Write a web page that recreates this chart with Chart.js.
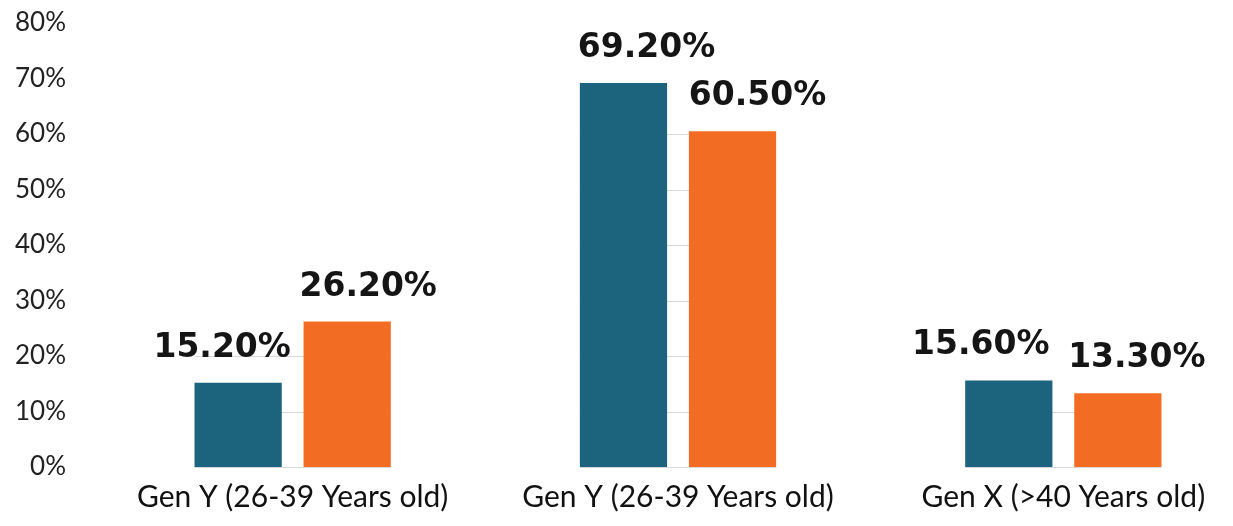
<!DOCTYPE html>
<html>
<head>
<meta charset="utf-8">
<script src="https://cdn.jsdelivr.net/npm/chart.js@4/dist/chart.umd.min.js"></script>
<style>
  html, body { margin: 0; padding: 0; background: #fff; overflow: hidden; }
  #genChart { display: block; }
</style>
</head>
<body>
<canvas id="genChart" width="1256" height="526"></canvas>
<script>
const categories = ["Gen Y (26-39 Years old)", "Gen Y (26-39 Years old)", "Gen X (>40 Years old)"];
const seriesA = [15.2, 69.2, 15.6];
const seriesB = [26.2, 60.5, 13.3];
const yTicks = [0, 10, 20, 30, 40, 50, 60, 70, 80];

const BLUE = "#1c637e";
const ORANGE = "#f26d23";

// sideways nudge of each value label, per dataset then per category
const labelNudge = [[-16, 23, -28], [21, 25, 19]];

// faint grid lines, drawn across each bar group up to its taller bar
const groupGrid = {
  id: "groupGrid",
  beforeDatasetsDraw(chart) {
    const ctx = chart.ctx;
    const y = chart.scales.y;
    const metaA = chart.getDatasetMeta(0);
    const metaB = chart.getDatasetMeta(1);
    ctx.save();
    ctx.strokeStyle = "#d9d9d9";
    ctx.lineWidth = 1;
    metaA.data.forEach((barA, i) => {
      const barB = metaB.data[i];
      const x0 = barA.x - barA.width / 2;
      const x1 = barB.x + barB.width / 2;
      const top = Math.max(seriesA[i], seriesB[i]);
      yTicks.filter(v => v <= top).forEach(v => {
        const py = Math.round(y.getPixelForValue(v)) + 0.5;
        ctx.beginPath();
        ctx.moveTo(x0, py);
        ctx.lineTo(x1, py);
        ctx.stroke();
      });
    });
    ctx.restore();
  }
};

// bold value labels above the bars
const valueLabels = {
  id: "valueLabels",
  afterDatasetsDraw(chart) {
    const ctx = chart.ctx;
    ctx.save();
    ctx.font = "bold 33px 'DejaVu Sans'";
    ctx.fillStyle = "#151515";
    ctx.textAlign = "center";
    ctx.textBaseline = "alphabetic";
    chart.data.datasets.forEach((ds, d) => {
      chart.getDatasetMeta(d).data.forEach((bar, i) => {
        const txt = ds.data[i].toFixed(2) + "%";
        ctx.fillText(txt, bar.x + labelNudge[d][i], bar.y - 26);
      });
    });
    ctx.restore();
  }
};

new Chart(document.getElementById("genChart"), {
  type: "bar",
  data: {
    labels: categories,
    datasets: [
      { label: "A", data: seriesA, backgroundColor: BLUE },
      { label: "B", data: seriesB, backgroundColor: ORANGE }
    ]
  },
  options: {
    responsive: false,
    animation: false,
    layout: { padding: { top: 23, bottom: 0, left: 0, right: 0 } },
    categoryPercentage: 0.566,
    barPercentage: 0.8,
    plugins: {
      legend: { display: false },
      tooltip: { enabled: false }
    },
    scales: {
      x: {
        grid: { display: false, drawTicks: false },
        border: { display: false },
        afterFit(scale) { scale.height = 59; },
        ticks: {
          color: "#111",
          padding: 12,
          maxRotation: 0,
          autoSkip: false,
          font: { family: "Lato", size: 30 }
        }
      },
      y: {
        min: 0,
        max: 80,
        grid: { display: false, drawTicks: false },
        border: { display: false },
        afterFit(scale) {
          scale.width = 100;
          scale.paddingTop = 0;
          scale.paddingBottom = 0;
        },
        ticks: {
          stepSize: 10,
          padding: 34,
          color: "#222",
          font: { family: "Lato", size: 26 },
          callback: v => v + "%"
        }
      }
    }
  },
  plugins: [groupGrid, valueLabels]
});
</script>
</body>
</html>
